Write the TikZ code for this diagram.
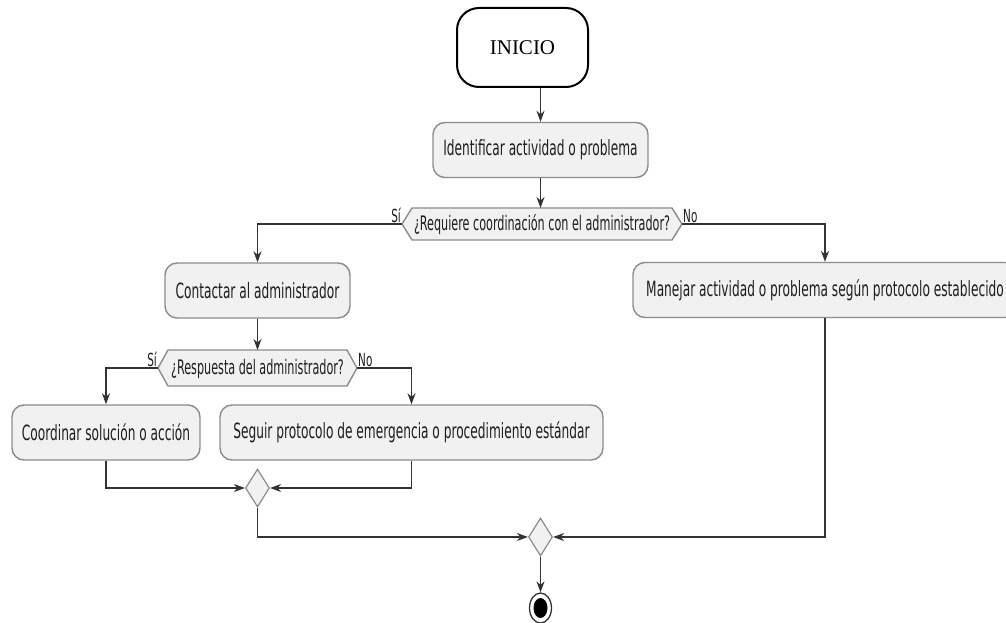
\documentclass[tikz,border=0pt]{standalone}
\usepackage{fontspec}
\usetikzlibrary{arrows.meta,shapes.geometric,calc}
\newfontfamily\umlfont[FakeStretch=0.58]{DejaVu Sans}
\newfontfamily\askfont[FakeStretch=0.56]{DejaVu Sans}
\newfontfamily\startfont{Liberation Serif}
\definecolor{boxfill}{HTML}{F1F1F1}
\definecolor{boxline}{HTML}{8C8C8C}
\definecolor{flowline}{HTML}{333333}
\definecolor{txt}{HTML}{1E1E1E}

\begin{document}
\begin{tikzpicture}[x=1pt,y=-1pt,
  startbox/.style={draw=black, fill=white, line width=2pt, rounded corners=22pt,
    minimum width=131pt, minimum height=79pt, inner sep=0pt,
    font=\startfont\fontsize{21}{24}\selectfont, text=black},
  action/.style={draw=boxline, fill=boxfill, line width=1.4pt, rounded corners=12pt,
    minimum height=55pt, inner sep=0pt,
    font=\umlfont\fontsize{21}{24}\selectfont, text=txt},
  hexbox/.style={draw=boxline, fill=boxfill, line width=1.4pt, line join=miter},
  question/.style={font=\askfont\fontsize{20}{23}\selectfont, text=txt, inner sep=0pt},
  lbl/.style={font=\umlfont\fontsize{18}{20}\selectfont, text=txt, inner sep=1pt},
  merge/.style={diamond, draw=boxline, fill=boxfill, line width=1.2pt,
    minimum width=24pt, minimum height=38pt, inner sep=0pt},
  flow/.style={draw=flowline, line width=1.3pt,
    -{Stealth[length=11pt, width=8pt, inset=3.5pt]}},
]
\useasboundingbox (0,0) rectangle (1006,623);

% start and actions
\node[startbox] (start) at (522.5,47.5) {INICIO};
\node[action, minimum width=215pt] (ident) at (540.5,150) {Identificar actividad o problema};
\node[action, minimum width=185pt] (contact) at (257.5,290.5) {Contactar al administrador};
\node[action, minimum width=384pt] (manage) at (825,290) {Manejar actividad o problema según protocolo establecido};
\node[action, minimum width=188pt] (coord) at (106,432.5) {Coordinar solución o acción};
\node[action, minimum width=383pt] (follow) at (411.5,432.5) {Seguir protocolo de emergencia o procedimiento estándar};

% first decision
\coordinate (q1w) at (402,224);
\coordinate (q1e) at (682,224);
\coordinate (q1n) at (540.5,208);
\path[hexbox] (q1w) -- (412,208) -- (672,208) -- (q1e) -- (672,240) -- (412,240) -- cycle;
\node[question] (q1) at (542,225) {¿Requiere coordinación con el administrador?};

% second decision
\coordinate (q2w) at (158,368);
\coordinate (q2e) at (357,368);
\coordinate (q2n) at (257.5,350);
\path[hexbox] (q2w) -- (168,350) -- (347,350) -- (q2e) -- (347,386) -- (168,386) -- cycle;
\node[question] (q2) at (257.5,369) {¿Respuesta del administrador?};

% merges and end
\node[merge] (merge1) at (257.5,488) {};
\node[merge] (merge2) at (540.5,537) {};
\node[ellipse, draw=flowline, fill=white, line width=1.3pt, minimum width=22pt, minimum height=30pt, inner sep=0pt] (end) at (540.5,608) {};
\node[ellipse, fill=black, minimum width=14pt, minimum height=20pt, inner sep=0pt] (endcore) at (end.center) {};

% branch labels
\node[lbl, anchor=south east] (s1) at (q1w) {Sí};
\node[lbl, anchor=south west] (n1) at (q1e) {No};
\node[lbl, anchor=south east] (s2) at (q2w) {Sí};
\node[lbl, anchor=south west] (n2) at (q2e) {No};

% connectors
\draw[flow] (start.south -| ident.north) -- (ident.north);
\draw[flow] (ident.south) -- (q1n);
\draw[flow] (q1w) -| (contact.north);
\draw[flow] (q1e) -| (manage.north);
\draw[flow] (contact.south) -- (q2n);
\draw[flow] (q2w) -| (coord.north);
\draw[flow] (q2e) -| (follow.north);
\draw[flow] (coord.south) |- (merge1.west);
\draw[flow] (follow.south) |- (merge1.east);
\draw[flow] (merge1.south) |- (merge2.west);
\draw[flow] (manage.south) |- (merge2.east);
\draw[flow] (merge2.south) -- (end.north);
\end{tikzpicture}
\end{document}
